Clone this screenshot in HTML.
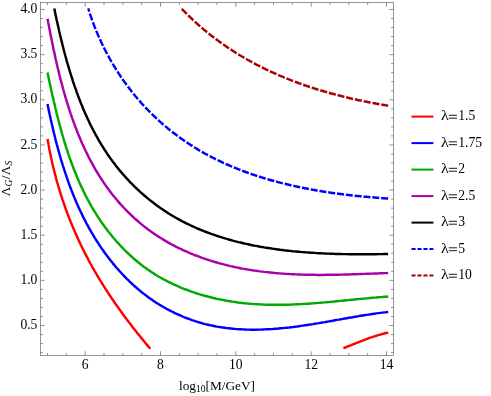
<!DOCTYPE html>
<html><head><meta charset="utf-8"><title>plot</title>
<style>
html,body{margin:0;padding:0;background:#fff;}
body{width:491px;height:396px;overflow:hidden;}
svg{display:block;will-change:transform;font-family:"Liberation Serif",serif;font-size:13px;}
text{fill:#000;}
</style></head><body>
<svg width="491" height="396" viewBox="0 0 491 396">
<rect width="491" height="396" fill="#fff"/>
<g fill="none" stroke-width="2.45" stroke-linecap="butt" stroke-linejoin="round">
<path d="M47.6 139.0 L47.9 141.0 L48.3 143.0 L48.6 144.9 L49.0 146.9 L49.3 148.9 L49.7 150.9 L50.1 152.8 L50.5 154.8 L50.9 156.8 L51.3 158.7 L51.8 160.7 L52.2 162.7 L52.7 164.6 L53.1 166.6 L53.6 168.5 L54.1 170.5 L54.6 172.4 L55.1 174.4 L55.6 176.3 L56.1 178.2 L56.6 180.2 L57.1 182.1 L57.7 184.0 L58.3 186.0 L58.8 187.9 L59.4 189.8 L60.0 191.7 L60.6 193.6 L61.2 195.5 L61.8 197.4 L62.4 199.3 L63.1 201.2 L63.7 203.1 L64.4 205.0 L65.0 206.9 L65.7 208.8 L66.4 210.7 L67.1 212.6 L67.8 214.4 L68.5 216.3 L69.2 218.2 L70.0 220.0 L70.7 221.9 L71.5 223.8 L72.2 225.6 L73.0 227.4 L73.8 229.3 L74.6 231.1 L75.4 233.0 L76.2 234.8 L77.0 236.6 L77.8 238.4 L78.7 240.3 L79.5 242.1 L80.4 243.9 L81.2 245.7 L82.1 247.5 L83.0 249.3 L83.9 251.1 L84.8 252.9 L85.7 254.6 L86.6 256.4 L87.6 258.2 L88.5 260.0 L89.4 261.7 L90.4 263.5 L91.4 265.2 L92.3 267.0 L93.3 268.7 L94.3 270.5 L95.3 272.2 L96.3 273.9 L97.3 275.6 L98.4 277.4 L99.4 279.1 L100.5 280.8 L101.5 282.5 L102.6 284.2 L103.6 285.9 L104.7 287.6 L105.8 289.3 L106.9 291.0 L108.0 292.6 L109.1 294.3 L110.2 296.0 L111.3 297.6 L112.4 299.3 L113.6 301.0 L114.7 302.6 L115.8 304.3 L117.0 305.9 L118.2 307.5 L119.3 309.2 L120.5 310.8 L121.7 312.4 L122.8 314.0 L124.0 315.7 L125.2 317.3 L126.4 318.9 L127.6 320.5 L128.8 322.1 L130.1 323.7 L131.3 325.3 L132.5 326.9 L133.7 328.4 L135.0 330.0 L136.2 331.6 L137.5 333.2 L138.7 334.7 L140.0 336.3 L141.2 337.9 L142.5 339.4 L143.8 341.0 L145.0 342.5 L146.3 344.1 L147.6 345.6 L148.9 347.1 L150.2 348.7" stroke="#ff0000"/>
<path d="M343.4 348.2 L345.3 347.5 L347.2 346.7 L349.2 345.9 L351.1 345.2 L353.0 344.4 L354.9 343.6 L356.8 342.9 L358.7 342.1 L360.7 341.3 L362.6 340.6 L364.5 339.9 L366.5 339.1 L368.4 338.4 L370.3 337.7 L372.3 337.1 L374.3 336.4 L376.2 335.8 L378.2 335.2 L380.2 334.6 L382.2 334.0 L384.2 333.5 L386.2 333.0 L388.2 332.6" stroke="#ff0000"/>
<path d="M47.5 104.0 L47.9 106.0 L48.3 107.9 L48.7 109.9 L49.1 111.8 L49.5 113.8 L50.0 115.7 L50.4 117.7 L50.8 119.6 L51.3 121.6 L51.7 123.5 L52.2 125.5 L52.6 127.4 L53.1 129.4 L53.5 131.3 L54.0 133.3 L54.5 135.2 L55.0 137.1 L55.4 139.1 L55.9 141.0 L56.4 143.0 L56.9 144.9 L57.5 146.8 L58.0 148.8 L58.5 150.7 L59.1 152.6 L59.6 154.6 L60.2 156.5 L60.7 158.4 L61.3 160.4 L61.9 162.3 L62.5 164.2 L63.0 166.1 L63.7 168.0 L64.3 169.9 L64.9 171.8 L65.5 173.7 L66.2 175.6 L66.8 177.5 L67.5 179.4 L68.1 181.3 L68.8 183.2 L69.5 185.1 L70.2 187.0 L70.9 188.8 L71.6 190.7 L72.4 192.6 L73.1 194.4 L73.9 196.3 L74.6 198.2 L75.4 200.0 L76.2 201.9 L77.0 203.7 L77.8 205.5 L78.6 207.4 L79.5 209.2 L80.3 211.0 L81.2 212.8 L82.1 214.6 L82.9 216.4 L83.8 218.2 L84.8 220.0 L85.7 221.8 L86.6 223.6 L87.6 225.3 L88.5 227.1 L89.5 228.9 L90.5 230.6 L91.5 232.4 L92.6 234.1 L93.6 235.8 L94.6 237.6 L95.7 239.3 L96.8 241.0 L97.9 242.7 L99.0 244.4 L100.1 246.1 L101.2 247.7 L102.4 249.4 L103.5 251.0 L104.7 252.7 L105.9 254.3 L107.1 255.9 L108.3 257.6 L109.6 259.2 L110.8 260.7 L112.1 262.3 L113.3 263.9 L114.6 265.4 L115.9 267.0 L117.3 268.5 L118.6 270.0 L119.9 271.5 L121.3 273.0 L122.7 274.5 L124.0 275.9 L125.4 277.4 L126.8 278.8 L128.3 280.2 L129.7 281.6 L131.2 283.0 L132.6 284.3 L134.1 285.7 L135.6 287.0 L137.1 288.3 L138.6 289.6 L140.2 290.9 L141.7 292.2 L143.3 293.4 L144.8 294.6 L146.4 295.8 L148.0 297.0 L149.6 298.2 L151.3 299.3 L152.9 300.5 L154.6 301.6 L156.2 302.7 L157.9 303.7 L159.6 304.8 L161.3 305.8 L163.0 306.8 L164.8 307.8 L166.5 308.8 L168.3 309.7 L170.0 310.6 L171.8 311.5 L173.6 312.4 L175.4 313.3 L177.2 314.1 L179.0 314.9 L180.8 315.7 L182.6 316.5 L184.5 317.3 L186.3 318.0 L188.2 318.7 L190.1 319.4 L191.9 320.1 L193.8 320.7 L195.7 321.3 L197.6 321.9 L199.5 322.5 L201.4 323.0 L203.3 323.6 L205.2 324.1 L207.2 324.5 L209.1 325.0 L211.0 325.4 L213.0 325.8 L214.9 326.2 L216.9 326.6 L218.8 326.9 L220.8 327.2 L222.8 327.5 L224.8 327.8 L226.7 328.1 L228.7 328.3 L230.7 328.5 L232.7 328.7 L234.7 328.9 L236.7 329.1 L238.7 329.2 L240.7 329.3 L242.7 329.4 L244.7 329.5 L246.7 329.6 L248.7 329.6 L250.7 329.7 L252.7 329.7 L254.7 329.7 L256.7 329.7 L258.7 329.6 L260.8 329.6 L262.8 329.5 L264.8 329.4 L266.8 329.3 L268.8 329.2 L270.8 329.1 L272.9 329.0 L274.9 328.8 L276.9 328.7 L278.9 328.5 L280.9 328.3 L282.9 328.1 L284.9 327.9 L286.9 327.7 L289.0 327.5 L291.0 327.2 L293.0 327.0 L295.0 326.7 L297.0 326.5 L299.0 326.2 L301.0 325.9 L303.0 325.6 L305.0 325.3 L307.0 325.0 L309.0 324.7 L311.0 324.4 L313.0 324.1 L315.0 323.7 L317.0 323.4 L319.0 323.1 L321.0 322.7 L323.0 322.4 L325.0 322.1 L326.9 321.7 L328.9 321.4 L330.9 321.0 L332.9 320.7 L334.9 320.3 L336.9 319.9 L338.9 319.6 L340.9 319.2 L342.8 318.9 L344.8 318.5 L346.8 318.2 L348.8 317.8 L350.8 317.5 L352.7 317.2 L354.7 316.8 L356.7 316.5 L358.7 316.1 L360.6 315.8 L362.6 315.5 L364.6 315.2 L366.5 314.9 L368.5 314.6 L370.5 314.3 L372.4 314.0 L374.4 313.7 L376.4 313.4 L378.3 313.1 L380.3 312.9 L382.3 312.6 L384.2 312.4 L386.2 312.2 L388.2 311.9" stroke="#0000ff"/>
<path d="M47.5 72.5 L47.9 74.4 L48.3 76.3 L48.7 78.3 L49.1 80.2 L49.5 82.1 L50.0 84.0 L50.4 86.0 L50.8 87.9 L51.2 89.8 L51.6 91.8 L52.1 93.7 L52.5 95.7 L53.0 97.6 L53.4 99.5 L53.8 101.5 L54.3 103.4 L54.8 105.4 L55.2 107.3 L55.7 109.3 L56.2 111.2 L56.6 113.2 L57.1 115.1 L57.6 117.1 L58.1 119.0 L58.6 121.0 L59.1 122.9 L59.6 124.9 L60.2 126.8 L60.7 128.8 L61.2 130.7 L61.8 132.6 L62.3 134.6 L62.9 136.5 L63.5 138.5 L64.0 140.4 L64.6 142.3 L65.2 144.2 L65.8 146.2 L66.4 148.1 L67.1 150.0 L67.7 151.9 L68.3 153.8 L69.0 155.8 L69.6 157.7 L70.3 159.6 L71.0 161.5 L71.7 163.4 L72.4 165.2 L73.1 167.1 L73.8 169.0 L74.6 170.9 L75.3 172.7 L76.1 174.6 L76.8 176.5 L77.6 178.3 L78.4 180.2 L79.2 182.0 L80.0 183.8 L80.9 185.7 L81.7 187.5 L82.6 189.3 L83.4 191.1 L84.3 192.9 L85.2 194.7 L86.1 196.5 L87.1 198.3 L88.0 200.1 L89.0 201.8 L89.9 203.6 L90.9 205.3 L91.9 207.1 L92.9 208.8 L93.9 210.5 L95.0 212.2 L96.1 213.9 L97.1 215.6 L98.2 217.3 L99.3 219.0 L100.4 220.7 L101.6 222.3 L102.7 224.0 L103.9 225.6 L105.1 227.2 L106.3 228.8 L107.5 230.4 L108.7 232.0 L110.0 233.6 L111.2 235.1 L112.5 236.7 L113.8 238.2 L115.1 239.7 L116.4 241.3 L117.7 242.7 L119.1 244.2 L120.4 245.7 L121.8 247.1 L123.2 248.6 L124.6 250.0 L126.0 251.4 L127.4 252.8 L128.9 254.1 L130.3 255.5 L131.8 256.8 L133.3 258.2 L134.8 259.5 L136.3 260.7 L137.8 262.0 L139.4 263.2 L140.9 264.5 L142.5 265.7 L144.1 266.9 L145.7 268.0 L147.3 269.2 L148.9 270.3 L150.6 271.4 L152.2 272.5 L153.9 273.6 L155.6 274.7 L157.2 275.7 L158.9 276.7 L160.7 277.7 L162.4 278.7 L164.1 279.6 L165.9 280.5 L167.6 281.4 L169.4 282.3 L171.2 283.2 L173.0 284.1 L174.8 284.9 L176.6 285.7 L178.4 286.5 L180.2 287.3 L182.1 288.1 L183.9 288.8 L185.8 289.5 L187.6 290.2 L189.5 290.9 L191.4 291.6 L193.3 292.2 L195.2 292.9 L197.1 293.5 L199.0 294.1 L200.9 294.7 L202.8 295.2 L204.8 295.8 L206.7 296.3 L208.6 296.8 L210.6 297.3 L212.5 297.8 L214.5 298.2 L216.4 298.7 L218.4 299.1 L220.4 299.5 L222.4 299.9 L224.3 300.3 L226.3 300.7 L228.3 301.0 L230.3 301.3 L232.3 301.6 L234.3 301.9 L236.3 302.2 L238.3 302.5 L240.3 302.7 L242.3 303.0 L244.3 303.2 L246.3 303.4 L248.3 303.6 L250.3 303.8 L252.3 303.9 L254.3 304.1 L256.3 304.2 L258.3 304.3 L260.3 304.4 L262.3 304.5 L264.3 304.6 L266.3 304.7 L268.3 304.7 L270.4 304.8 L272.4 304.8 L274.4 304.8 L276.4 304.8 L278.4 304.8 L280.4 304.8 L282.4 304.8 L284.4 304.8 L286.4 304.7 L288.4 304.7 L290.4 304.6 L292.4 304.5 L294.4 304.4 L296.5 304.3 L298.5 304.3 L300.5 304.1 L302.5 304.0 L304.5 303.9 L306.5 303.8 L308.5 303.7 L310.5 303.5 L312.5 303.4 L314.5 303.2 L316.5 303.1 L318.5 302.9 L320.5 302.7 L322.5 302.6 L324.5 302.4 L326.5 302.2 L328.5 302.1 L330.5 301.9 L332.5 301.7 L334.5 301.5 L336.5 301.3 L338.5 301.1 L340.5 300.9 L342.5 300.7 L344.5 300.5 L346.5 300.3 L348.5 300.1 L350.5 299.9 L352.5 299.7 L354.5 299.5 L356.5 299.3 L358.5 299.1 L360.4 298.9 L362.4 298.8 L364.4 298.6 L366.4 298.4 L368.4 298.2 L370.4 298.0 L372.4 297.8 L374.3 297.6 L376.3 297.5 L378.3 297.3 L380.3 297.1 L382.3 297.0 L384.2 296.8 L386.2 296.7 L388.2 296.5" stroke="#00aa00"/>
<path d="M47.5 18.7 L47.9 20.6 L48.2 22.5 L48.6 24.4 L49.0 26.3 L49.3 28.2 L49.7 30.1 L50.1 32.0 L50.4 34.0 L50.8 35.9 L51.2 37.8 L51.6 39.7 L52.0 41.7 L52.4 43.6 L52.8 45.5 L53.2 47.5 L53.6 49.4 L54.0 51.4 L54.5 53.3 L54.9 55.3 L55.3 57.2 L55.7 59.2 L56.2 61.1 L56.6 63.1 L57.1 65.0 L57.5 67.0 L58.0 69.0 L58.5 70.9 L59.0 72.9 L59.4 74.8 L59.9 76.8 L60.4 78.8 L60.9 80.7 L61.4 82.7 L62.0 84.6 L62.5 86.6 L63.0 88.6 L63.6 90.5 L64.1 92.5 L64.7 94.4 L65.2 96.4 L65.8 98.3 L66.4 100.3 L67.0 102.2 L67.6 104.2 L68.2 106.1 L68.8 108.0 L69.4 110.0 L70.1 111.9 L70.7 113.8 L71.4 115.7 L72.0 117.7 L72.7 119.6 L73.4 121.5 L74.1 123.4 L74.8 125.3 L75.5 127.2 L76.2 129.1 L77.0 131.0 L77.7 132.9 L78.5 134.7 L79.2 136.6 L80.0 138.5 L80.8 140.3 L81.6 142.2 L82.4 144.0 L83.3 145.9 L84.1 147.7 L85.0 149.5 L85.8 151.3 L86.7 153.1 L87.6 154.9 L88.5 156.7 L89.4 158.5 L90.4 160.3 L91.3 162.1 L92.3 163.8 L93.2 165.6 L94.2 167.3 L95.2 169.1 L96.2 170.8 L97.2 172.5 L98.3 174.2 L99.3 175.9 L100.4 177.6 L101.5 179.3 L102.6 180.9 L103.7 182.6 L104.8 184.2 L106.0 185.9 L107.1 187.5 L108.3 189.1 L109.5 190.7 L110.7 192.3 L111.9 193.9 L113.2 195.5 L114.4 197.0 L115.7 198.5 L117.0 200.1 L118.3 201.6 L119.6 203.1 L120.9 204.6 L122.3 206.0 L123.6 207.5 L125.0 209.0 L126.4 210.4 L127.8 211.8 L129.2 213.2 L130.6 214.6 L132.1 216.0 L133.5 217.3 L135.0 218.7 L136.5 220.0 L138.0 221.3 L139.5 222.6 L141.0 223.9 L142.5 225.1 L144.1 226.4 L145.6 227.6 L147.2 228.8 L148.8 230.0 L150.4 231.1 L152.0 232.3 L153.6 233.4 L155.3 234.5 L156.9 235.6 L158.6 236.7 L160.3 237.8 L162.0 238.8 L163.7 239.9 L165.4 240.9 L167.1 241.9 L168.8 242.9 L170.6 243.8 L172.3 244.8 L174.1 245.7 L175.8 246.6 L177.6 247.5 L179.4 248.4 L181.2 249.2 L183.0 250.1 L184.8 250.9 L186.7 251.7 L188.5 252.5 L190.3 253.3 L192.2 254.0 L194.0 254.8 L195.9 255.5 L197.8 256.2 L199.7 256.9 L201.5 257.6 L203.4 258.3 L205.3 258.9 L207.2 259.6 L209.1 260.2 L211.1 260.8 L213.0 261.4 L214.9 262.0 L216.8 262.5 L218.8 263.1 L220.7 263.6 L222.7 264.1 L224.6 264.6 L226.6 265.1 L228.5 265.6 L230.5 266.1 L232.4 266.5 L234.4 267.0 L236.4 267.4 L238.3 267.8 L240.3 268.2 L242.3 268.6 L244.3 268.9 L246.2 269.3 L248.2 269.6 L250.2 269.9 L252.2 270.3 L254.2 270.6 L256.2 270.8 L258.1 271.1 L260.1 271.4 L262.1 271.6 L264.1 271.9 L266.1 272.1 L268.1 272.3 L270.1 272.5 L272.1 272.7 L274.1 272.9 L276.1 273.1 L278.1 273.3 L280.1 273.4 L282.1 273.6 L284.1 273.7 L286.1 273.9 L288.1 274.0 L290.1 274.1 L292.2 274.2 L294.2 274.3 L296.2 274.4 L298.2 274.5 L300.2 274.5 L302.2 274.6 L304.2 274.7 L306.2 274.7 L308.2 274.7 L310.3 274.8 L312.3 274.8 L314.3 274.8 L316.3 274.9 L318.3 274.9 L320.3 274.9 L322.3 274.9 L324.3 274.9 L326.3 274.8 L328.4 274.8 L330.4 274.8 L332.4 274.8 L334.4 274.8 L336.4 274.7 L338.4 274.7 L340.4 274.6 L342.4 274.6 L344.4 274.5 L346.4 274.5 L348.4 274.4 L350.4 274.4 L352.4 274.3 L354.4 274.2 L356.4 274.2 L358.4 274.1 L360.4 274.0 L362.4 274.0 L364.4 273.9 L366.4 273.8 L368.4 273.7 L370.4 273.7 L372.4 273.6 L374.3 273.5 L376.3 273.4 L378.3 273.4 L380.3 273.3 L382.3 273.2 L384.2 273.1 L386.2 273.1 L388.2 273.0" stroke="#aa00aa"/>
<path d="M54.3 8.6 L54.7 10.5 L55.1 12.4 L55.5 14.4 L55.9 16.3 L56.3 18.2 L56.7 20.1 L57.2 22.1 L57.6 24.0 L58.0 25.9 L58.5 27.8 L58.9 29.8 L59.3 31.7 L59.8 33.7 L60.2 35.6 L60.7 37.5 L61.2 39.5 L61.6 41.4 L62.1 43.4 L62.6 45.3 L63.1 47.3 L63.6 49.2 L64.1 51.1 L64.6 53.1 L65.1 55.0 L65.7 57.0 L66.2 58.9 L66.7 60.9 L67.3 62.8 L67.9 64.7 L68.4 66.7 L69.0 68.6 L69.6 70.5 L70.2 72.5 L70.8 74.4 L71.4 76.3 L72.0 78.2 L72.6 80.2 L73.2 82.1 L73.9 84.0 L74.5 85.9 L75.2 87.8 L75.9 89.7 L76.5 91.6 L77.2 93.5 L77.9 95.4 L78.6 97.3 L79.4 99.2 L80.1 101.0 L80.8 102.9 L81.6 104.8 L82.4 106.7 L83.1 108.5 L83.9 110.4 L84.7 112.2 L85.5 114.0 L86.3 115.9 L87.2 117.7 L88.0 119.5 L88.9 121.3 L89.7 123.2 L90.6 125.0 L91.5 126.8 L92.4 128.5 L93.3 130.3 L94.3 132.1 L95.2 133.9 L96.2 135.6 L97.2 137.4 L98.1 139.1 L99.1 140.8 L100.2 142.6 L101.2 144.3 L102.2 146.0 L103.3 147.7 L104.3 149.4 L105.4 151.0 L106.5 152.7 L107.6 154.4 L108.8 156.0 L109.9 157.6 L111.1 159.3 L112.3 160.9 L113.5 162.5 L114.7 164.1 L115.9 165.7 L117.1 167.2 L118.4 168.8 L119.6 170.4 L120.9 171.9 L122.2 173.4 L123.5 174.9 L124.9 176.4 L126.2 177.9 L127.6 179.4 L129.0 180.9 L130.3 182.3 L131.7 183.7 L133.2 185.2 L134.6 186.6 L136.0 188.0 L137.5 189.3 L138.9 190.7 L140.4 192.1 L141.9 193.4 L143.4 194.7 L144.9 196.0 L146.5 197.3 L148.0 198.6 L149.6 199.9 L151.1 201.1 L152.7 202.3 L154.3 203.5 L155.9 204.7 L157.5 205.9 L159.1 207.1 L160.7 208.2 L162.4 209.3 L164.0 210.4 L165.7 211.5 L167.3 212.6 L169.0 213.7 L170.7 214.7 L172.4 215.7 L174.1 216.7 L175.8 217.7 L177.5 218.7 L179.3 219.6 L181.0 220.6 L182.7 221.5 L184.5 222.4 L186.3 223.3 L188.0 224.1 L189.8 225.0 L191.6 225.8 L193.4 226.7 L195.2 227.5 L197.0 228.3 L198.8 229.0 L200.7 229.8 L202.5 230.5 L204.3 231.3 L206.2 232.0 L208.0 232.7 L209.9 233.4 L211.8 234.1 L213.6 234.7 L215.5 235.4 L217.4 236.0 L219.3 236.6 L221.2 237.2 L223.1 237.8 L225.0 238.4 L226.9 238.9 L228.8 239.5 L230.7 240.0 L232.7 240.6 L234.6 241.1 L236.5 241.6 L238.5 242.1 L240.4 242.5 L242.4 243.0 L244.3 243.5 L246.3 243.9 L248.3 244.3 L250.2 244.8 L252.2 245.2 L254.2 245.6 L256.2 245.9 L258.2 246.3 L260.1 246.7 L262.1 247.0 L264.1 247.4 L266.1 247.7 L268.1 248.0 L270.1 248.3 L272.1 248.6 L274.1 248.9 L276.1 249.2 L278.1 249.5 L280.1 249.8 L282.2 250.0 L284.2 250.3 L286.2 250.5 L288.2 250.7 L290.2 250.9 L292.3 251.2 L294.3 251.4 L296.3 251.5 L298.3 251.7 L300.3 251.9 L302.4 252.1 L304.4 252.2 L306.4 252.4 L308.4 252.5 L310.5 252.7 L312.5 252.8 L314.5 252.9 L316.5 253.1 L318.6 253.2 L320.6 253.3 L322.6 253.4 L324.6 253.5 L326.7 253.6 L328.7 253.6 L330.7 253.7 L332.7 253.8 L334.7 253.9 L336.7 253.9 L338.8 254.0 L340.8 254.0 L342.8 254.1 L344.8 254.1 L346.8 254.1 L348.8 254.2 L350.8 254.2 L352.8 254.2 L354.8 254.2 L356.8 254.2 L358.8 254.2 L360.8 254.2 L362.7 254.2 L364.7 254.2 L366.7 254.2 L368.7 254.2 L370.6 254.2 L372.6 254.2 L374.5 254.2 L376.5 254.2 L378.5 254.1 L380.4 254.1 L382.3 254.1 L384.3 254.0 L386.2 254.0 L388.1 254.0" stroke="#000000"/>
</g>
<g fill="none" stroke-width="2.4" stroke-linecap="butt" stroke-linejoin="round" transform="scale(1 1.045)">
<path d="M88.2 7.93 L88.8 9.76 L89.4 11.58 L90.0 13.41 L90.7 15.22 L91.3 17.04 L92.0 18.85 L92.7 20.65 L93.4 22.45 L94.1 24.25 L94.8 26.04 L95.6 27.82 L96.3 29.60 L97.1 31.38 L97.9 33.15 L98.7 34.91 L99.5 36.67 L100.3 38.43 L101.2 40.17 L102.0 41.91 L102.9 43.65 L103.8 45.38 L104.7 47.10 L105.6 48.81 L106.6 50.52 L107.5 52.22 L108.5 53.92 L109.4 55.60 L110.4 57.28 L111.4 58.96 L112.4 60.62 L113.5 62.28 L114.5 63.93 L115.6 65.57 L116.6 67.20 L117.7 68.82 L118.8 70.44 L119.9 72.05 L121.0 73.65 L122.2 75.24 L123.3 76.82 L124.5 78.39 L125.7 79.95 L126.9 81.50 L128.1 83.05 L129.3 84.58 L130.5 86.11 L131.7 87.62 L133.0 89.12 L134.3 90.62 L135.5 92.10 L136.8 93.57 L138.1 95.04 L139.5 96.49 L140.8 97.93 L142.1 99.36 L143.5 100.78 L144.8 102.18 L146.2 103.58 L147.6 104.97 L149.0 106.34 L150.4 107.70 L151.8 109.05 L153.3 110.39 L154.7 111.72 L156.2 113.03 L157.7 114.34 L159.1 115.63 L160.6 116.91 L162.1 118.18 L163.6 119.43 L165.2 120.68 L166.7 121.91 L168.2 123.13 L169.8 124.33 L171.4 125.53 L172.9 126.71 L174.5 127.88 L176.1 129.03 L177.7 130.18 L179.3 131.31 L180.9 132.43 L182.6 133.53 L184.2 134.62 L185.9 135.70 L187.5 136.77 L189.2 137.82 L190.9 138.86 L192.5 139.88 L194.2 140.90 L195.9 141.89 L197.6 142.88 L199.3 143.85 L201.1 144.81 L202.8 145.76 L204.5 146.69 L206.3 147.61 L208.0 148.52 L209.8 149.41 L211.6 150.30 L213.3 151.17 L215.1 152.03 L216.9 152.87 L218.7 153.70 L220.5 154.53 L222.3 155.34 L224.1 156.13 L225.9 156.92 L227.8 157.69 L229.6 158.46 L231.4 159.21 L233.3 159.95 L235.1 160.67 L237.0 161.39 L238.8 162.10 L240.7 162.79 L242.6 163.47 L244.5 164.15 L246.3 164.81 L248.2 165.46 L250.1 166.10 L252.0 166.73 L253.9 167.35 L255.8 167.96 L257.7 168.56 L259.7 169.15 L261.6 169.73 L263.5 170.30 L265.4 170.86 L267.4 171.40 L269.3 171.94 L271.2 172.47 L273.2 172.99 L275.1 173.50 L277.1 174.01 L279.0 174.50 L281.0 174.98 L282.9 175.46 L284.9 175.92 L286.9 176.38 L288.8 176.82 L290.8 177.26 L292.8 177.69 L294.7 178.11 L296.7 178.53 L298.7 178.93 L300.7 179.33 L302.7 179.72 L304.6 180.10 L306.6 180.47 L308.6 180.83 L310.6 181.19 L312.6 181.54 L314.6 181.88 L316.6 182.21 L318.6 182.54 L320.6 182.86 L322.6 183.17 L324.6 183.48 L326.6 183.77 L328.5 184.06 L330.5 184.35 L332.5 184.62 L334.5 184.89 L336.5 185.16 L338.5 185.41 L340.5 185.66 L342.5 185.91 L344.5 186.15 L346.5 186.38 L348.5 186.60 L350.5 186.82 L352.5 187.04 L354.5 187.24 L356.5 187.45 L358.5 187.64 L360.5 187.83 L362.5 188.02 L364.5 188.20 L366.5 188.37 L368.4 188.54 L370.4 188.71 L372.4 188.87 L374.4 189.02 L376.4 189.17 L378.3 189.32 L380.3 189.46 L382.3 189.60 L384.2 189.73 L386.2 189.86 L388.2 189.98" stroke="#0000ff" stroke-dasharray="7.016 1.850" stroke-dashoffset="3.60"/>
<path d="M181.8 8.42 L183.2 9.82 L184.6 11.21 L186.0 12.58 L187.4 13.94 L188.9 15.29 L190.3 16.63 L191.8 17.96 L193.2 19.28 L194.7 20.59 L196.2 21.88 L197.7 23.16 L199.2 24.43 L200.7 25.69 L202.2 26.94 L203.7 28.18 L205.3 29.41 L206.8 30.62 L208.4 31.82 L209.9 33.02 L211.5 34.20 L213.1 35.37 L214.7 36.53 L216.3 37.68 L217.9 38.81 L219.5 39.94 L221.1 41.05 L222.7 42.16 L224.4 43.25 L226.0 44.33 L227.7 45.41 L229.3 46.47 L231.0 47.52 L232.7 48.56 L234.4 49.58 L236.0 50.60 L237.7 51.61 L239.4 52.60 L241.1 53.59 L242.9 54.56 L244.6 55.53 L246.3 56.48 L248.1 57.42 L249.8 58.36 L251.5 59.28 L253.3 60.19 L255.1 61.09 L256.8 61.98 L258.6 62.86 L260.4 63.73 L262.2 64.59 L264.0 65.44 L265.8 66.28 L267.6 67.10 L269.4 67.92 L271.2 68.73 L273.0 69.53 L274.8 70.31 L276.6 71.09 L278.5 71.86 L280.3 72.61 L282.2 73.36 L284.0 74.10 L285.9 74.82 L287.7 75.54 L289.6 76.25 L291.4 76.95 L293.3 77.63 L295.2 78.31 L297.1 78.98 L298.9 79.64 L300.8 80.29 L302.7 80.93 L304.6 81.56 L306.5 82.18 L308.4 82.80 L310.3 83.40 L312.2 84.00 L314.1 84.58 L316.0 85.16 L318.0 85.73 L319.9 86.29 L321.8 86.85 L323.7 87.39 L325.7 87.93 L327.6 88.45 L329.5 88.97 L331.4 89.48 L333.4 89.99 L335.3 90.48 L337.3 90.97 L339.2 91.45 L341.2 91.92 L343.1 92.39 L345.1 92.84 L347.0 93.29 L349.0 93.74 L350.9 94.17 L352.9 94.60 L354.8 95.02 L356.8 95.43 L358.7 95.84 L360.7 96.24 L362.7 96.63 L364.6 97.02 L366.6 97.40 L368.5 97.77 L370.5 98.14 L372.5 98.50 L374.4 98.85 L376.4 99.20 L378.4 99.54 L380.3 99.88 L382.3 100.21 L384.3 100.53 L386.2 100.85 L388.2 101.16" stroke="#aa0000" stroke-dasharray="7.077 1.850" stroke-dashoffset="0.00"/>
</g>
<rect x="40.5" y="2.5" width="353.0" height="353.0" fill="none" stroke="#666" stroke-width="0.68"/>
<path d="M47.50 355.50V353.00M47.50 2.50V5.00M66.33 355.50V353.00M66.33 2.50V5.00M85.17 355.50V351.30M85.17 2.50V6.70M104.00 355.50V353.00M104.00 2.50V5.00M122.83 355.50V353.00M122.83 2.50V5.00M141.67 355.50V353.00M141.67 2.50V5.00M160.50 355.50V351.30M160.50 2.50V6.70M179.33 355.50V353.00M179.33 2.50V5.00M198.17 355.50V353.00M198.17 2.50V5.00M217.00 355.50V353.00M217.00 2.50V5.00M235.83 355.50V351.30M235.83 2.50V6.70M254.67 355.50V353.00M254.67 2.50V5.00M273.50 355.50V353.00M273.50 2.50V5.00M292.33 355.50V353.00M292.33 2.50V5.00M311.17 355.50V351.30M311.17 2.50V6.70M330.00 355.50V353.00M330.00 2.50V5.00M348.83 355.50V353.00M348.83 2.50V5.00M367.67 355.50V353.00M367.67 2.50V5.00M386.50 355.50V351.30M386.50 2.50V6.70M40.50 352.59H43.00M393.50 352.59H391.00M40.50 343.56H43.00M393.50 343.56H391.00M40.50 334.53H43.00M393.50 334.53H391.00M40.50 325.50H44.70M393.50 325.50H389.30M40.50 316.47H43.00M393.50 316.47H391.00M40.50 307.44H43.00M393.50 307.44H391.00M40.50 298.41H43.00M393.50 298.41H391.00M40.50 289.39H43.00M393.50 289.39H391.00M40.50 280.36H44.70M393.50 280.36H389.30M40.50 271.33H43.00M393.50 271.33H391.00M40.50 262.30H43.00M393.50 262.30H391.00M40.50 253.27H43.00M393.50 253.27H391.00M40.50 244.24H43.00M393.50 244.24H391.00M40.50 235.21H44.70M393.50 235.21H389.30M40.50 226.19H43.00M393.50 226.19H391.00M40.50 217.16H43.00M393.50 217.16H391.00M40.50 208.13H43.00M393.50 208.13H391.00M40.50 199.10H43.00M393.50 199.10H391.00M40.50 190.07H44.70M393.50 190.07H389.30M40.50 181.04H43.00M393.50 181.04H391.00M40.50 172.01H43.00M393.50 172.01H391.00M40.50 162.99H43.00M393.50 162.99H391.00M40.50 153.96H43.00M393.50 153.96H391.00M40.50 144.93H44.70M393.50 144.93H389.30M40.50 135.90H43.00M393.50 135.90H391.00M40.50 126.87H43.00M393.50 126.87H391.00M40.50 117.84H43.00M393.50 117.84H391.00M40.50 108.81H43.00M393.50 108.81H391.00M40.50 99.79H44.70M393.50 99.79H389.30M40.50 90.76H43.00M393.50 90.76H391.00M40.50 81.73H43.00M393.50 81.73H391.00M40.50 72.70H43.00M393.50 72.70H391.00M40.50 63.67H43.00M393.50 63.67H391.00M40.50 54.64H44.70M393.50 54.64H389.30M40.50 45.61H43.00M393.50 45.61H391.00M40.50 36.59H43.00M393.50 36.59H391.00M40.50 27.56H43.00M393.50 27.56H391.00M40.50 18.53H43.00M393.50 18.53H391.00M40.50 9.50H44.70M393.50 9.50H389.30" fill="none" stroke="#666" stroke-width="0.7"/>
<g font-size="13.6"><text x="85.2" y="368.6" text-anchor="middle">6</text><text x="160.5" y="368.6" text-anchor="middle">8</text><text x="235.8" y="368.6" text-anchor="middle">10</text><text x="311.2" y="368.6" text-anchor="middle">12</text><text x="386.5" y="368.6" text-anchor="middle">14</text></g>
<g font-size="13.6"><text x="37.4" y="329.1" text-anchor="end">0.5</text><text x="37.4" y="284.0" text-anchor="end">1.0</text><text x="37.4" y="238.8" text-anchor="end">1.5</text><text x="37.4" y="193.7" text-anchor="end">2.0</text><text x="37.4" y="148.5" text-anchor="end">2.5</text><text x="37.4" y="103.4" text-anchor="end">3.0</text><text x="37.4" y="58.2" text-anchor="end">3.5</text><text x="37.4" y="13.1" text-anchor="end">4.0</text></g>
<text x="217" y="390.3" text-anchor="middle" font-size="13.3">log<tspan font-size="9.5" dy="2">10</tspan><tspan dy="-2">[M/GeV]</tspan></text>
<text transform="translate(10 178.4) rotate(-90)" text-anchor="middle" letter-spacing="0.3" font-size="13.2">Λ<tspan font-size="9.5" font-style="italic" dy="2">G</tspan><tspan dy="-2">/Λ</tspan><tspan font-size="9.5" font-style="italic" dy="2">S</tspan></text>
<path d="M411.5 116.6H433.4" stroke="#ff0000" stroke-width="2" fill="none"/><text transform="translate(441 120.3) scale(1.1 1)" font-size="14.6">λ</text><path d="M448.8 115.3H457M448.8 118.2H457" stroke="#000" stroke-width="0.9" fill="none"/><text transform="translate(458.2 120.2) scale(0.95 1)" font-size="14.4">1.5</text>
<path d="M411.5 143.1H433.4" stroke="#0000ff" stroke-width="2" fill="none"/><text transform="translate(441 146.8) scale(1.1 1)" font-size="14.6">λ</text><path d="M448.8 141.8H457M448.8 144.7H457" stroke="#000" stroke-width="0.9" fill="none"/><text transform="translate(458.2 146.7) scale(0.95 1)" font-size="14.4">1.75</text>
<path d="M411.5 169.6H433.4" stroke="#00aa00" stroke-width="2" fill="none"/><text transform="translate(441 173.3) scale(1.1 1)" font-size="14.6">λ</text><path d="M448.8 168.3H457M448.8 171.2H457" stroke="#000" stroke-width="0.9" fill="none"/><text transform="translate(458.2 173.2) scale(0.95 1)" font-size="14.4">2</text>
<path d="M411.5 196.1H433.4" stroke="#aa00aa" stroke-width="2" fill="none"/><text transform="translate(441 199.8) scale(1.1 1)" font-size="14.6">λ</text><path d="M448.8 194.8H457M448.8 197.7H457" stroke="#000" stroke-width="0.9" fill="none"/><text transform="translate(458.2 199.7) scale(0.95 1)" font-size="14.4">2.5</text>
<path d="M411.5 222.6H433.4" stroke="#000000" stroke-width="2" fill="none"/><text transform="translate(441 226.3) scale(1.1 1)" font-size="14.6">λ</text><path d="M448.8 221.3H457M448.8 224.2H457" stroke="#000" stroke-width="0.9" fill="none"/><text transform="translate(458.2 226.2) scale(0.95 1)" font-size="14.4">3</text>
<path d="M411.5 249.1H433.4" stroke="#0000ff" stroke-width="2" fill="none" stroke-dasharray="4.1 1.85"/><text transform="translate(441 252.8) scale(1.1 1)" font-size="14.6">λ</text><path d="M448.8 247.8H457M448.8 250.7H457" stroke="#000" stroke-width="0.9" fill="none"/><text transform="translate(458.2 252.7) scale(0.95 1)" font-size="14.4">5</text>
<path d="M411.5 275.6H433.4" stroke="#aa0000" stroke-width="2" fill="none" stroke-dasharray="4.1 1.85"/><text transform="translate(441 279.3) scale(1.1 1)" font-size="14.6">λ</text><path d="M448.8 274.3H457M448.8 277.2H457" stroke="#000" stroke-width="0.9" fill="none"/><text transform="translate(458.2 279.2) scale(0.95 1)" font-size="14.4">10</text>

</svg>
</body></html>
